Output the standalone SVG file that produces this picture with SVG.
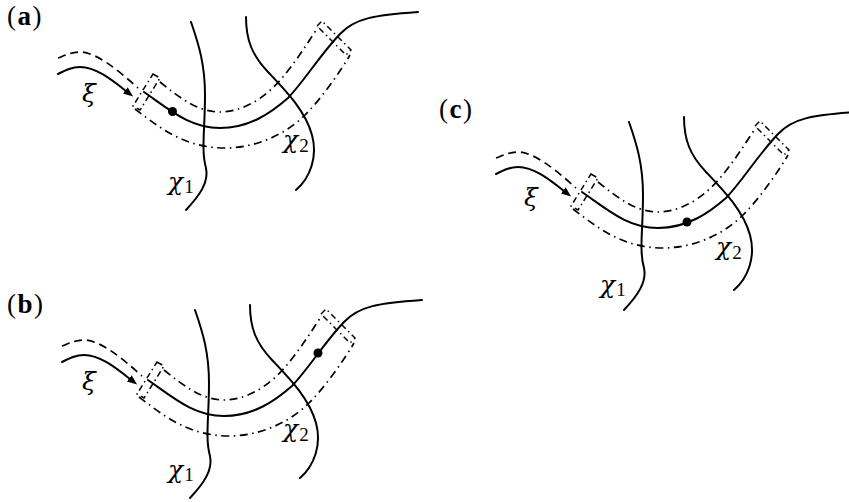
<svg xmlns="http://www.w3.org/2000/svg" xmlns:xlink="http://www.w3.org/1999/xlink" width="849" height="502" viewBox="0 0 849 502">
<style>
.solid{fill:none;stroke:#000;stroke-width:2;stroke-linecap:round}
.dash{fill:none;stroke:#000;stroke-width:1.7;stroke-dasharray:8 5}
.dd{fill:none;stroke:#000;stroke-width:1.7;stroke-dasharray:8 4.5 1.5 4.5}
.box{fill:none;stroke:#000;stroke-width:1.5;stroke-dasharray:6 3.5 1.5 3.5}
.lbl{font-family:"Liberation Serif",serif;font-size:27px;letter-spacing:1.5px;fill:#000}
.math{font-family:"DejaVu Serif","Liberation Serif",serif;font-style:italic;font-size:25px;fill:#000}
.sub{font-family:"Liberation Serif",serif;font-style:normal;font-size:19px}
.dot{fill:#000}
</style>
<defs>
<marker id="arr" viewBox="0 0 10 8" refX="1" refY="4" markerWidth="10" markerHeight="8" markerUnits="userSpaceOnUse" orient="auto">
<path d="M0,0 L10,4 L0,8 z" fill="#000"/>
</marker>
<g id="tube">
<path class="solid" d="M58,74 C66,70 72,67 80,67 C96,67 112,80 126,91" marker-end="url(#arr)"/>
<path class="solid" d="M144,92 C170,110 190,128 220,128 C250,128 272,112 288,98 C305,80 320,55 340,34 C355,18 375,15 418,12"/>
<path class="dash" d="M58,58 C66,55 72,52 80,52 C96,52 118,70 138,88"/>
<path class="dd" d="M160,82 C180,98 198,112 220,112 C245,112 268,95 282,78 C294,64 306,46 318,27"/>
<path class="dd" d="M135,109 C160,128 185,148 225,148 C255,148 285,135 305,115 C322,98 340,72 350,55"/>
<polygon class="box" points="153,74 160,78 140,110 133,106"/>
<polygon class="box" points="317,26 322,21 351,50 346,55"/>
<path class="solid" d="M191,22 C199,45 205,65 205,95 C205,130 201,150 206,168 C209,182 200,195 186,210"/>
<path class="solid" d="M246,17 C246,40 252,55 268,72 C285,90 305,110 312,135 C318,157 310,178 296,190"/>
</g>
</defs>
<g id="panel-a">
<use xlink:href="#tube" href="#tube"/>
<circle class="dot" cx="172.5" cy="111.5" r="4.5"/>
<text class="lbl" x="7" y="25">(<tspan font-weight="bold">a</tspan>)</text>
<text class="math" x="82" y="102">ξ</text>
<text class="math" x="168" y="190">χ<tspan class="sub" dx="1" dy="3">1</tspan></text>
<text class="math" x="283" y="148">χ<tspan class="sub" dx="1" dy="4">2</tspan></text>
</g>
<g id="panel-b">
<use xlink:href="#tube" href="#tube" transform="translate(4,288)"/>
<circle class="dot" cx="318" cy="353" r="4.5"/>
<text class="lbl" x="7" y="313">(<tspan font-weight="bold">b</tspan>)</text>
<text class="math" x="82" y="390">ξ</text>
<text class="math" x="168" y="478">χ<tspan class="sub" dx="1" dy="3">1</tspan></text>
<text class="math" x="283" y="437">χ<tspan class="sub" dx="1" dy="4">2</tspan></text>
</g>
<g id="panel-c">
<use xlink:href="#tube" href="#tube" transform="translate(438,100)"/>
<circle class="dot" cx="687" cy="222" r="4.5"/>
<text class="lbl" x="439" y="118">(<tspan font-weight="bold">c</tspan>)</text>
<text class="math" x="524" y="206">ξ</text>
<text class="math" x="600" y="293">χ<tspan class="sub" dx="1" dy="3">1</tspan></text>
<text class="math" x="716" y="255">χ<tspan class="sub" dx="1" dy="4">2</tspan></text>
</g>
</svg>
